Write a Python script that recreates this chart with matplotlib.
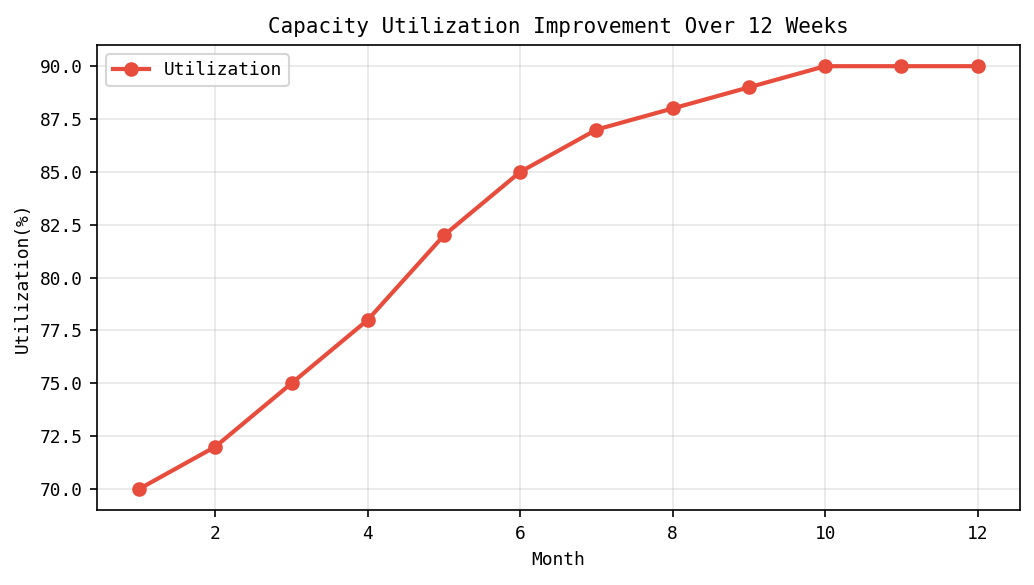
import matplotlib
matplotlib.use("Agg")
import matplotlib.pyplot as plt

months = [1, 2, 3, 4, 5, 6, 7, 8, 9, 10, 11, 12]
utilization = [70, 72, 75, 78, 82, 85, 87, 88, 89, 90, 90, 90]

plt.rcParams['font.family'] = ['DejaVu Sans Mono', 'Noto Sans CJK SC', 'DejaVu Sans']
plt.rcParams['font.size'] = 8.6

fig, ax = plt.subplots(figsize=(1034 / 150, 585 / 150), dpi=150)
ax.plot(months, utilization, marker='o', color='#e74c3c', linewidth=2,
        markersize=6, label='Utilization')
ax.set_title('Capacity Utilization Improvement Over 12 Weeks', fontsize=10)
ax.set_xlabel('Month', fontsize=8.6)
ax.set_ylabel('Utilization(%)', fontsize=8.6)
ax.grid(True, alpha=0.3)
ax.legend(loc='upper left', fontsize=8.6)

fig.subplots_adjust(left=0.094, right=0.986, top=0.923, bottom=0.128)
fig.savefig('out.png', dpi=150)
